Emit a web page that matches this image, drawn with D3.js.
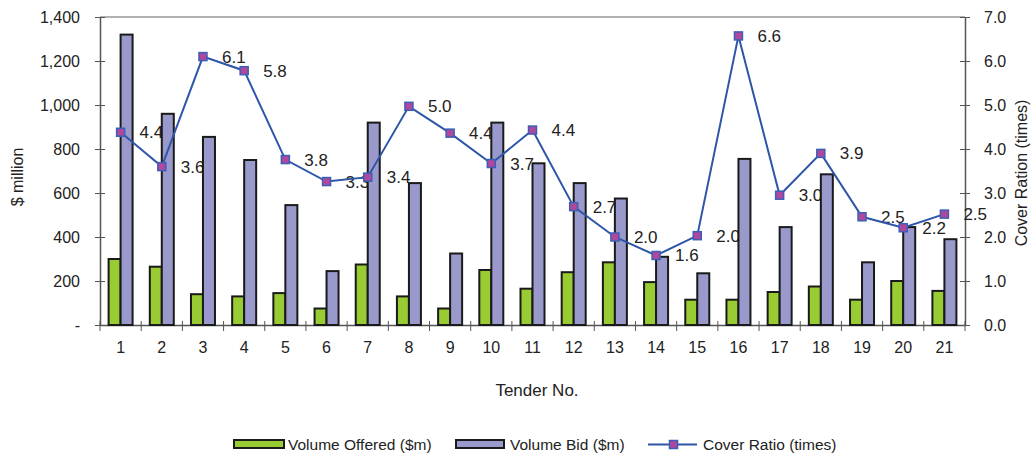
<!DOCTYPE html>
<html><head><meta charset="utf-8">
<script src="https://cdn.jsdelivr.net/npm/d3@7"></script>
<style>body{margin:0;background:#fff;} text{font-family:"Liberation Sans",Arial,sans-serif;}</style>
</head><body><svg id="c" width="1031" height="458"></svg>
<script>
const tenders = ["1","2","3","4","5","6","7","8","9","10","11","12","13","14","15","16","17","18","19","20","21"];
const volumeOffered = [300,265,140,130,145,75,275,130,75,250,165,240,285,195,115,115,150,175,115,200,155];
const volumeBid = [1320,960,855,750,545,245,920,645,325,920,735,645,575,310,235,755,445,685,285,445,390];
const coverRatio = [4.38,3.6,6.1,5.78,3.76,3.26,3.36,4.97,4.36,3.67,4.43,2.69,2.0,1.58,2.03,6.57,2.95,3.9,2.46,2.21,2.52];
const leftTicks = [0,200,400,600,800,1000,1200,1400];
const rightTicks = [0,1,2,3,4,5,6,7];
const legendLabels = ["Volume Offered ($m)","Volume Bid ($m)","Cover Ratio (times)"];

const svg = d3.select("#c");
const L=100,R=965,T=17,B=325;
const x = d3.scaleBand().domain(tenders).range([L,R]);
const yL = d3.scaleLinear().domain([0,1400]).range([B,T]);
const yR = d3.scaleLinear().domain([0,7]).range([B,T]);
const bw = 12;
const axisCol="#555";
const green="#99CC33", purple="#9999CC", lineCol="#2E56A8", markFill="#B0479F", markStroke="#3A5FB5";

svg.append("line").attr("x1",L).attr("x2",R).attr("y1",T).attr("y2",T).attr("stroke","#999").attr("stroke-width",1.5);

const gl = svg.append("g").attr("transform",`translate(${L},0)`)
  .call(d3.axisLeft(yL).tickValues(leftTicks).tickSizeInner(5).tickSizeOuter(0).tickPadding(15)
    .tickFormat(d=>d===0?"-":d3.format(",")(d)));
gl.select(".domain").attr("stroke",axisCol).attr("stroke-width",1.5);
gl.selectAll(".tick line").attr("stroke",axisCol).attr("x2",5).attr("x1",-5);
gl.selectAll(".tick text").attr("font-size",16).attr("fill","#222").attr("font-family","Liberation Sans, Arial");

const gr = svg.append("g").attr("transform",`translate(${R},0)`)
  .call(d3.axisRight(yR).tickValues(rightTicks).tickSizeInner(5).tickSizeOuter(0).tickPadding(14)
    .tickFormat(d3.format(".1f")));
gr.select(".domain").attr("stroke",axisCol).attr("stroke-width",1.5);
gr.selectAll(".tick line").attr("stroke",axisCol).attr("x1",-5).attr("x2",5);
gr.selectAll(".tick text").attr("font-size",16).attr("fill","#222").attr("font-family","Liberation Sans, Arial");

const gb = svg.append("g").attr("transform",`translate(0,${B})`)
  .call(d3.axisBottom(x).tickSize(0).tickPadding(17));
gb.select(".domain").attr("stroke",axisCol).attr("stroke-width",1.5);
gb.selectAll(".tick text").attr("font-size",16).attr("fill","#222").attr("font-family","Liberation Sans, Arial");
const bounds = tenders.map(t=>x(t)).concat([R]);
svg.append("g").selectAll("line").data(bounds).join("line")
  .attr("x1",d=>d).attr("x2",d=>d).attr("y1",B-4).attr("y2",B+6).attr("stroke",axisCol).attr("stroke-width",1);

svg.append("g").selectAll("text").data(coverRatio).join("text")
  .attr("x",(d,i)=>x(tenders[i])+x.bandwidth()/2+19)
  .attr("y",(d,i)=>yR(d)+6)
  .attr("font-size",17).attr("fill","#222")
  .text(d=>d.toFixed(1));

const cx = t=>x(t)+x.bandwidth()/2;
svg.append("g").selectAll("rect").data(volumeOffered).join("rect")
  .attr("x",(d,i)=>cx(tenders[i])-bw).attr("width",bw)
  .attr("y",d=>yL(d)).attr("height",d=>B-yL(d))
  .attr("fill",green).attr("stroke","#1a1a1a").attr("stroke-width",2);
svg.append("g").selectAll("rect").data(volumeBid).join("rect")
  .attr("x",(d,i)=>cx(tenders[i])).attr("width",bw)
  .attr("y",d=>yL(d)).attr("height",d=>B-yL(d))
  .attr("fill",purple).attr("stroke","#1a1a1a").attr("stroke-width",2);

const line = d3.line().x((d,i)=>cx(tenders[i])).y(d=>yR(d));
svg.append("path").datum(coverRatio).attr("d",line).attr("fill","none").attr("stroke",lineCol).attr("stroke-width",2);
svg.append("g").selectAll("rect").data(coverRatio).join("rect")
  .attr("x",(d,i)=>cx(tenders[i])-4).attr("y",d=>yR(d)-4).attr("width",8).attr("height",8)
  .attr("fill",markFill).attr("stroke",markStroke).attr("stroke-width",1.5);

svg.append("text").attr("transform","translate(23,177) rotate(-90)").attr("text-anchor","middle")
  .attr("font-size",16).attr("fill","#222").text("$ million");
svg.append("text").attr("transform","translate(1027,173) rotate(-90)").attr("text-anchor","middle")
  .attr("font-size",16).attr("fill","#222").text("Cover Ration (times)");
svg.append("text").attr("x",537).attr("y",396).attr("text-anchor","middle")
  .attr("font-size",17).attr("fill","#222").text("Tender No.");

const lg = svg.append("g");
lg.append("rect").attr("x",234).attr("y",440).attr("width",50).attr("height",8).attr("fill",green).attr("stroke","#1a1a1a").attr("stroke-width",2);
lg.append("text").attr("x",288).attr("y",450).attr("font-size",15.5).attr("fill","#222").text(legendLabels[0]);
lg.append("rect").attr("x",456).attr("y",440).attr("width",48).attr("height",8).attr("fill",purple).attr("stroke","#1a1a1a").attr("stroke-width",2);
lg.append("text").attr("x",510).attr("y",450).attr("font-size",15.5).attr("fill","#222").text(legendLabels[1]);
lg.append("line").attr("x1",648).attr("x2",697).attr("y1",444.5).attr("y2",444.5).attr("stroke",lineCol).attr("stroke-width",2);
lg.append("rect").attr("x",669.5).attr("y",440.5).attr("width",8).attr("height",8).attr("fill",markFill).attr("stroke",markStroke).attr("stroke-width",1.5);
lg.append("text").attr("x",703).attr("y",450).attr("font-size",15.5).attr("fill","#222").text(legendLabels[2]);
</script></body></html>
